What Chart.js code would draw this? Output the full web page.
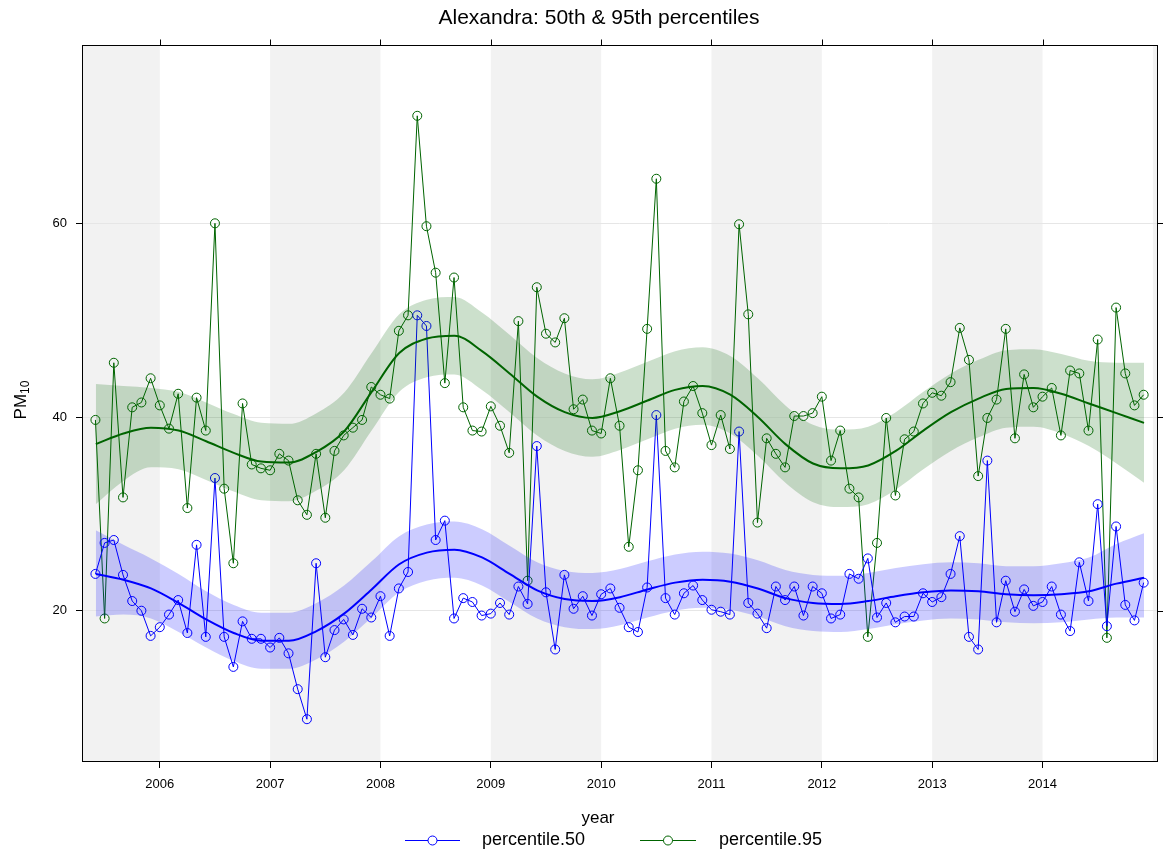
<!DOCTYPE html>
<html><head><meta charset="utf-8">
<script src="https://cdn.jsdelivr.net/npm/chart.js@4/dist/chart.umd.min.js"></script>
<style>html,body{margin:0;padding:0;background:#fff;}#wrap{width:1163px;height:852px;}</style>
</head><body><div id="wrap"><canvas id="c" width="1163" height="852"></canvas></div>
<script>
// ---- data ----
const firstYear = 2005, firstMonth = 6; // June 2005, monthly
const p50 = [23.8,27.0,27.3,23.7,21.0,20.0,17.4,18.3,19.6,21.1,
 17.7,26.8,17.3,33.7,17.3,14.2,18.9,17.1,17.1,16.2,
 17.2,15.6,11.9,8.8,24.9,15.2,18.0,19.1,17.5,20.2,
 19.3,21.5,17.4,22.3,24.0,50.5,49.4,27.3,29.3,19.2,
 21.3,20.9,19.5,19.7,20.8,19.6,22.5,20.7,37.0,21.9,
 16.0,23.7,20.2,21.5,19.5,21.7,22.3,20.3,18.3,17.8,
 22.4,40.2,21.3,19.6,21.8,22.6,21.1,20.1,19.9,19.6,
 38.5,20.8,19.7,18.2,22.5,21.1,22.5,19.5,22.5,21.8,
 19.2,19.6,23.8,23.3,25.4,19.3,20.8,18.8,19.4,19.4,
 21.8,20.9,21.4,23.8,27.7,17.3,16.0,35.5,18.8,23.1,
 19.9,22.2,20.5,20.9,22.5,19.6,17.9,25.0,21.0,31.0,
 18.4,28.7,20.6,19.0,22.9];
const p95 = [39.7,19.2,45.6,31.7,41.0,41.5,44.0,41.2,38.8,42.4,
 30.6,42.0,38.6,60.0,32.6,24.9,41.4,35.1,34.7,34.5,
 36.2,35.5,31.4,29.9,36.2,29.6,36.5,38.1,38.9,39.7,
 43.1,42.3,41.9,48.9,50.5,71.1,59.7,54.9,43.5,54.4,
 41.0,38.6,38.5,41.1,39.1,36.3,49.9,23.1,53.4,48.6,
 47.7,50.2,40.8,41.8,38.6,38.3,44.0,39.1,26.6,34.5,
 49.1,64.6,36.5,34.8,41.6,43.2,40.4,37.1,40.2,36.7,
 59.9,50.6,29.1,37.8,36.2,34.8,40.1,40.1,40.4,42.1,
 35.5,38.6,32.6,31.7,17.3,27.0,39.9,31.9,37.7,38.5,
 41.4,42.5,42.2,43.6,49.2,45.9,33.9,39.9,41.8,49.1,
 37.8,44.4,41.0,42.1,43.0,38.1,44.8,44.5,38.6,48.0,
 17.2,51.3,44.5,41.2,42.3];
const smoothT = [2005.42,2005.67,2005.92,2006.17,2006.42,2006.67,2006.92,2007.17,2007.42,2007.67,
 2007.92,2008.17,2008.42,2008.67,2008.92,2009.17,2009.42,2009.67,2009.92,2010.17,
 2010.42,2010.67,2010.92,2011.17,2011.42,2011.67,2011.92,2012.17,2012.42,2012.67,
 2012.92,2013.17,2013.42,2013.67,2013.92,2014.17,2014.42,2014.67,2014.92];
const smooth50 = [23.8,23.2,22.3,20.8,19.1,17.7,16.9,16.9,17.9,19.7,
 22.2,24.8,26.0,26.3,25.5,23.8,22.1,21.2,21.0,21.4,
 22.2,22.9,23.2,23.0,22.3,21.3,20.8,20.7,21.0,21.5,
 21.9,22.1,22.0,21.7,21.6,21.7,22.0,22.8,23.4];
const upper50 = [28.3,26.8,25.4,23.8,22.0,20.6,19.8,19.8,20.8,22.6,
 25.1,27.7,28.9,29.2,28.4,26.7,25.0,24.1,23.9,24.3,
 25.1,25.8,26.1,25.9,25.2,24.2,23.7,23.6,23.9,24.4,
 24.8,25.0,24.9,24.6,24.6,24.9,25.5,26.9,28.0];
const lower50 = [19.4,19.6,19.2,17.8,16.2,14.8,14.0,14.0,15.0,16.8,
 19.3,21.9,23.1,23.4,22.6,20.9,19.2,18.3,18.1,18.5,
 19.3,20.0,20.3,20.1,19.4,18.4,17.9,17.8,18.1,18.6,
 19.0,19.2,19.1,18.8,18.7,18.8,19.1,19.3,19.3];
const smooth95 = [37.2,38.3,38.9,38.6,37.5,36.3,35.4,35.3,36.4,38.5,
 42.6,46.6,48.1,48.4,46.8,44.5,42.1,40.5,39.9,40.6,
 41.7,42.8,43.2,42.3,40.0,37.2,35.2,34.7,35.0,36.5,
 38.6,40.5,41.9,42.9,43.0,42.4,41.4,40.4,39.4];
const upper95 = [43.4,43.2,43.0,42.6,41.5,40.3,39.4,39.3,40.4,42.5,
 46.6,50.6,52.1,52.4,50.8,48.5,46.1,44.5,43.9,44.6,
 45.7,46.8,47.2,46.3,44.0,41.2,39.2,38.7,39.0,40.5,
 42.6,44.5,45.9,46.9,47.0,46.5,45.8,45.6,45.6];
const lower95 = [31.0,33.4,34.8,34.6,33.5,32.3,31.4,31.3,32.4,34.5,
 38.6,42.6,44.1,44.4,42.8,40.5,38.1,36.5,35.9,36.6,
 37.7,38.8,39.2,38.3,36.0,33.2,31.2,30.7,31.0,32.5,
 34.6,36.5,37.9,38.9,39.0,38.3,37.0,35.2,33.2];
const yearTicks = [2006,2007,2008,2009,2010,2011,2012,2013,2014];
const yTicks = [20,40,60];
const seriesNames = ['percentile.50','percentile.95'];
const seriesColors = ['#0000ff','#006400'];

// ---- build ----
const monthT = p50.map((_, i) => firstYear + (firstMonth - 1 + i) / 12);
const pts = arr => arr.map((v, i) => ({x: monthT[i], y: v}));
const spts = arr => arr.map((v, i) => ({x: smoothT[i], y: v}));
const FONT = '"Liberation Sans", Arial, sans-serif';

const decor = {
  id: 'decor',
  beforeDraw(chart) {
    const {ctx, chartArea: a, scales: {x}} = chart;
    ctx.save();
    ctx.fillStyle = '#fff';
    ctx.fillRect(0, 0, chart.width, chart.height);
    ctx.fillStyle = '#f2f2f2';
    for (let yr = 2005; yr <= 2015; yr += 2) {
      const x0 = Math.max(a.left, x.getPixelForValue(yr));
      const x1 = Math.min(a.right, x.getPixelForValue(yr + 1));
      if (x1 > x0) ctx.fillRect(x0, a.top, x1 - x0, a.bottom - a.top);
    }
    ctx.restore();
  },
  afterDraw(chart) {
    const {ctx, chartArea: a, scales: {x, y}} = chart;
    ctx.save();
    ctx.strokeStyle = '#000';
    ctx.lineWidth = 1;
    const L = Math.round(a.left) + 0.5, T = Math.round(a.top) + 0.5;
    const R = Math.round(a.right) - 0.5, B = Math.round(a.bottom) - 0.5;
    ctx.strokeRect(L, T, R - L, B - T);
    ctx.beginPath();
    yearTicks.forEach(t => { const px = Math.round(x.getPixelForValue(t)) + 0.5; ctx.moveTo(px, T); ctx.lineTo(px, T - 6); });
    yTicks.forEach(t => { const py = Math.round(y.getPixelForValue(t)) + 0.5; ctx.moveTo(R, py); ctx.lineTo(R + 6, py); });
    ctx.stroke();
    // title
    ctx.fillStyle = '#000';
    ctx.textAlign = 'center';
    ctx.textBaseline = 'middle';
    ctx.font = '21px ' + FONT;
    ctx.fillText('Alexandra: 50th & 95th percentiles', 599, 18);
    // x label
    ctx.font = '17px ' + FONT;
    ctx.fillText('year', 598, 818);
    // y label with subscript
    ctx.save();
    ctx.translate(21, 400);
    ctx.rotate(-Math.PI / 2);
    ctx.textAlign = 'left';
    ctx.font = '17px ' + FONT;
    const wPM = ctx.measureText('PM').width;
    ctx.font = '12px ' + FONT;
    const wSub = ctx.measureText('10').width;
    const x0 = -(wPM + wSub) / 2;
    ctx.font = '17px ' + FONT;
    ctx.fillText('PM', x0, 0);
    ctx.font = '12px ' + FONT;
    ctx.fillText('10', x0 + wPM, 5);
    ctx.restore();
    // legend
    const items = [{x1: 405, x2: 460, tx: 482}, {x1: 640, x2: 696, tx: 719}];
    ctx.font = '18px ' + FONT;
    ctx.textAlign = 'left';
    items.forEach((it, k) => {
      const ly = 840;
      ctx.strokeStyle = seriesColors[k];
      ctx.lineWidth = 1;
      ctx.beginPath();
      ctx.moveTo(it.x1, ly + 0.5); ctx.lineTo(it.x2, ly + 0.5);
      ctx.stroke();
      ctx.beginPath();
      ctx.fillStyle = '#fff';
      ctx.arc((it.x1 + it.x2) / 2, ly + 0.5, 4.5, 0, Math.PI * 2);
      ctx.fill();
      ctx.stroke();
      ctx.fillStyle = '#000';
      ctx.fillText(seriesNames[k], it.tx, ly);
    });
    ctx.restore();
  }
};

const dataDs = (k, arr) => ({
  label: seriesNames[k], data: pts(arr), showLine: true,
  borderColor: seriesColors[k], borderWidth: 1, tension: 0,
  pointRadius: 4.5, pointBorderWidth: 1, pointBorderColor: seriesColors[k],
  pointBackgroundColor: 'rgba(0,0,0,0)', pointHoverRadius: 4.5, order: 3
});
const bandUpper = (arr, target, col) => ({
  data: spts(arr), showLine: true, borderWidth: 0, pointRadius: 0, cubicInterpolationMode: 'monotone',
  fill: {target: target}, backgroundColor: col, borderColor: 'rgba(0,0,0,0)', order: 2
});
const bandLower = arr => ({
  data: spts(arr), showLine: true, borderWidth: 0, pointRadius: 0, cubicInterpolationMode: 'monotone',
  fill: false, borderColor: 'rgba(0,0,0,0)', order: 2
});
const smoothDs = (k, arr) => ({
  data: spts(arr), showLine: true, borderWidth: 2, pointRadius: 0, cubicInterpolationMode: 'monotone',
  borderColor: seriesColors[k], fill: false, order: 1
});

new Chart(document.getElementById('c'), {
  type: 'scatter',
  data: {
    datasets: [
      dataDs(0, p50), dataDs(1, p95),
      bandUpper(upper50, 3, 'rgba(0,0,255,0.2)'), bandLower(lower50),
      bandUpper(upper95, 5, 'rgba(0,100,0,0.2)'), bandLower(lower95),
      smoothDs(0, smooth50), smoothDs(1, smooth95)
    ]
  },
  options: {
    responsive: false, animation: false, devicePixelRatio: 1,
    layout: {padding: {top: 45, right: 3, left: 0, bottom: 0}},
    plugins: {legend: {display: false}, title: {display: false}, tooltip: {enabled: false}},
    events: [],
    scales: {
      x: {
        type: 'linear', position: 'bottom', min: 2005.295, max: 2015.042,
        afterFit: s => { s.height = 90; s.paddingLeft = 0; s.paddingRight = 0; },
        afterBuildTicks: s => { s.ticks = yearTicks.map(v => ({value: v})); },
        grid: {drawOnChartArea: false, drawTicks: true, tickLength: 6, tickColor: '#000', color: '#000'},
        border: {display: false},
        ticks: {color: '#000', font: {size: 13, family: FONT}, padding: 9, maxRotation: 0, autoSkip: false, callback: v => String(v)}
      },
      y: {
        type: 'linear', position: 'left', min: 4.38, max: 78.41,
        afterFit: s => { s.width = 82; s.paddingTop = 0; s.paddingBottom = 0; },
        afterBuildTicks: s => { s.ticks = yTicks.map(v => ({value: v})); },
        grid: {drawOnChartArea: true, drawTicks: true, tickLength: 6, tickColor: '#000', color: '#e6e6e6'},
        border: {display: false},
        ticks: {color: '#000', font: {size: 13, family: FONT}, padding: 9, callback: v => String(v)}
      }
    }
  },
  plugins: [decor]
});
</script></body></html>
